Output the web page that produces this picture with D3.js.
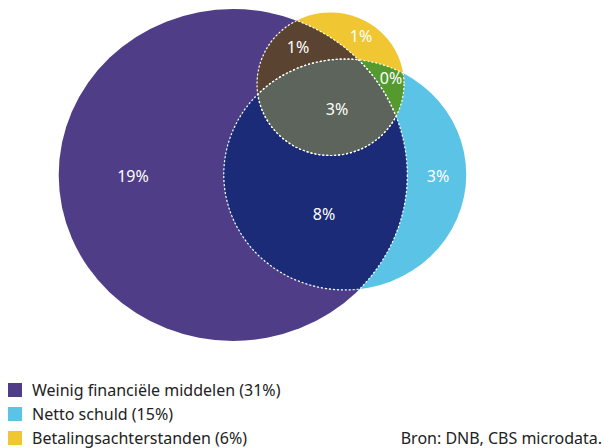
<!DOCTYPE html>
<html>
<head>
<meta charset="utf-8">
<script src="https://cdn.jsdelivr.net/npm/d3@7"></script>
<style>
  body { margin: 0; background: #fff; }
  svg text { font-family: "Noto Sans", sans-serif; }
</style>
</head>
<body>
<svg></svg>
<script>
// sets (share of households, %)
let setNames = ['Weinig financiële middelen', 'Netto schuld', 'Betalingsachterstanden'];
let setValues = [31, 15, 6];
let setColors = ['#4f3d87', '#5bc3e5', '#f0c733'];

// regions of the diagram: which sets they belong to, and their share
let regionSets = [[0], [0, 1], [1], [0, 1, 2], [0, 2], [2], [1, 2]];
let regionValues = [19, 8, 3, 3, 1, 1, 0];

let source = 'Bron: DNB, CBS microdata.';

let width = 604;
let height = 448;

// layout of the circles (centres) and the label anchors
let centres = [[233, 175], [345, 174.5], [330.5, 84]];
let labelPos = [[133, 182], [324, 220], [438, 182], [337, 115], [298, 53], [361, 42], [391, 84]];
let regionColors = ['#4f3d87', '#1b2b78', '#5bc3e5', '#5d645c', '#5b4331', '#f0c733', '#549a2e'];

let svg = d3.select('svg')
    .attr('width', width)
    .attr('height', height);

let rScale = d3.scaleSqrt()
    .domain([0, 31])
    .range([0, 166]);
let stretch = 1.05;

let ellipses = setValues.map((v, i) => ({
    cx: centres[i][0],
    cy: centres[i][1],
    rx: rScale(v) * stretch,
    ry: rScale(v)
}));
// small tweaks
ellipses[2].rx = 73.5;
ellipses[2].ry = 71.5;

let defs = svg.append('defs');
ellipses.forEach((e, i) => {
    defs.append('clipPath').attr('id', 'clip' + i)
        .append('ellipse')
        .attr('cx', e.cx).attr('cy', e.cy).attr('rx', e.rx).attr('ry', e.ry);
});

let drawEllipse = (parent, e, fill) => {
    parent.append('ellipse')
        .attr('cx', e.cx).attr('cy', e.cy).attr('rx', e.rx).attr('ry', e.ry)
        .attr('fill', fill);
};

// base circles
ellipses.forEach((e, i) => drawEllipse(svg, e, setColors[i]));

// intersections, pairs first, then the triple one on top
let order = d3.range(regionSets.length)
    .filter(r => regionSets[r].length > 1)
    .sort((a, b) => regionSets[a].length - regionSets[b].length);

order.forEach(r => {
    let sets = regionSets[r];
    let g = svg;
    // clip by all sets except the last, draw the last
    sets.slice(0, -1).forEach(s => {
        g = g.append('g').attr('clip-path', 'url(#clip' + s + ')');
    });
    drawEllipse(g, ellipses[sets[sets.length - 1]], regionColors[r]);
});

// dotted outlines where a circle lies inside another
ellipses.forEach((e, i) => {
    ellipses.forEach((o, j) => {
        if (i === j) return;
        svg.append('g').attr('clip-path', 'url(#clip' + j + ')')
            .append('ellipse')
            .attr('cx', e.cx).attr('cy', e.cy).attr('rx', e.rx).attr('ry', e.ry)
            .attr('fill', 'none')
            .attr('stroke', '#fff')
            .attr('stroke-width', 1.2)
            .attr('stroke-dasharray', '2,2');
    });
});

// region labels
svg.selectAll('text.region')
    .data(regionValues)
    .enter()
    .append('text')
    .attr('class', 'region')
    .attr('x', (d, i) => labelPos[i][0])
    .attr('y', (d, i) => labelPos[i][1])
    .attr('text-anchor', 'middle')
    .attr('fill', '#fff')
    .attr('font-size', 16)
    .text(d => d + '%');

// legend
let legend = svg.selectAll('g.legend')
    .data(setNames)
    .enter()
    .append('g')
    .attr('class', 'legend')
    .attr('transform', (d, i) => 'translate(8,' + (383 + i * 24) + ')');

legend.append('rect')
    .attr('width', 14).attr('height', 14)
    .attr('fill', (d, i) => setColors[i]);

legend.append('text')
    .attr('x', 24)
    .attr('y', 12.5)
    .attr('font-size', 16)
    .attr('fill', '#222')
    .text((d, i) => d + ' (' + setValues[i] + '%)');

svg.append('text')
    .attr('x', 602)
    .attr('y', 443.5)
    .attr('text-anchor', 'end')
    .attr('font-size', 16)
    .attr('fill', '#222')
    .text(source);
</script>
</body>
</html>
